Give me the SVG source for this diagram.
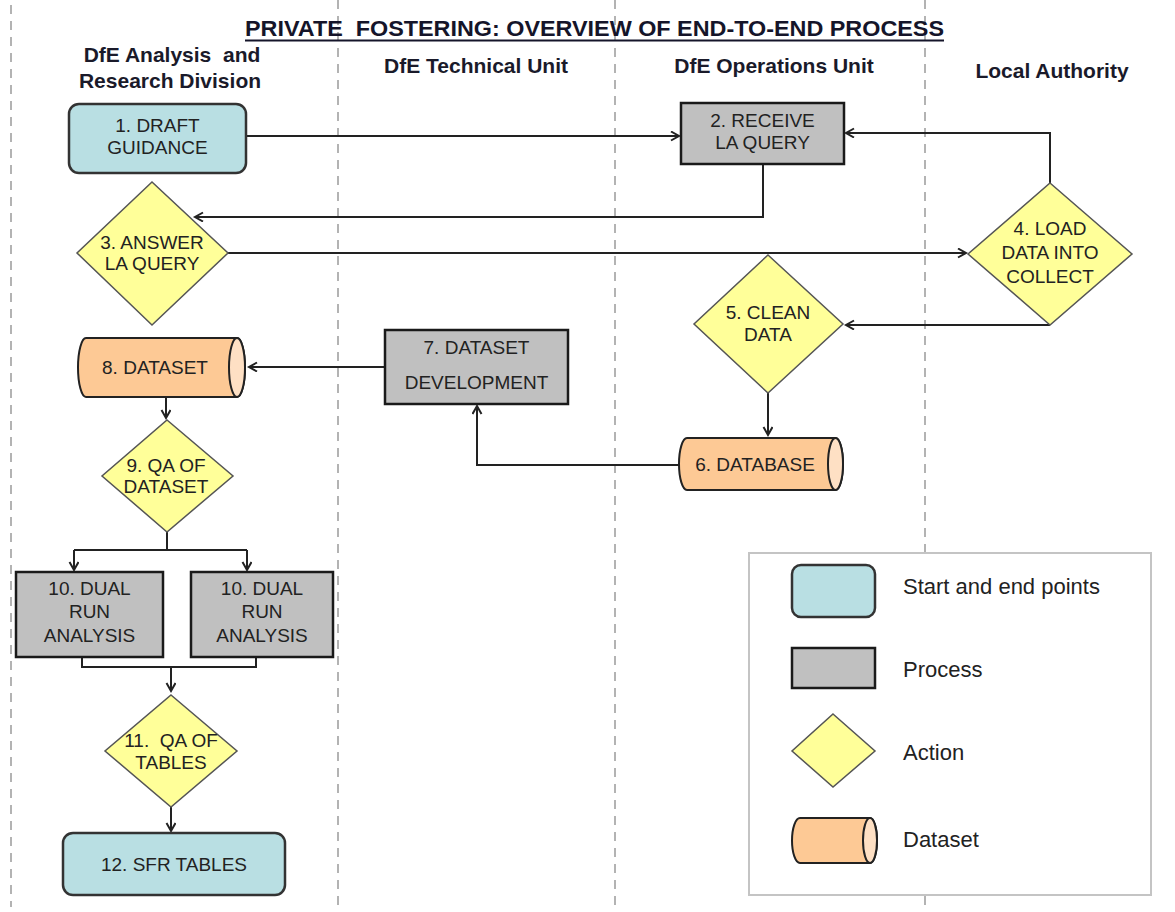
<svg xmlns="http://www.w3.org/2000/svg" width="1175" height="912" viewBox="0 0 1175 912">
<style>
.lane{stroke:#9a9a9a;stroke-width:1.5;stroke-dasharray:9 7;fill:none}
.hdr{font-family:"Liberation Sans",Arial,sans-serif;font-weight:bold;font-size:21px;fill:#1a1a2a;text-anchor:middle}
.ttl{font-family:"Liberation Sans",Arial,sans-serif;font-weight:bold;font-size:22px;fill:#15152a}
.t{font-family:"Liberation Sans",Arial,sans-serif;font-size:19px;fill:#222;text-anchor:middle}
.lg{font-family:"Liberation Sans",Arial,sans-serif;font-size:22px;fill:#222}
.start{fill:#b9dfe3;stroke:#333;stroke-width:2.5}
.proc{fill:#c0c0c0;stroke:#1a1a1a;stroke-width:2.5}
.act{fill:#ffff99;stroke:#555;stroke-width:1.5}
.ds{fill:#fdc995;stroke:#222;stroke-width:2}
.cap{fill:#fee0c4;stroke:#222;stroke-width:2}
.con path{fill:none;stroke:#222;stroke-width:2;marker-end:url(#arr)}
</style>
<defs>
<marker id="arr" markerWidth="12" markerHeight="12" refX="9" refY="5" orient="auto" markerUnits="userSpaceOnUse">
<path d="M1,0.5 L9,5 L1,9.5" fill="none" stroke="#222" stroke-width="2"/>
</marker>
</defs>
<rect width="1175" height="912" fill="#fff"/>
<g id="lanes">
<line class="lane" x1="11" y1="5" x2="11" y2="907"/>
<line class="lane" x1="338" y1="0" x2="338" y2="907"/>
<line class="lane" x1="615" y1="0" x2="615" y2="907"/>
<line class="lane" x1="925" y1="0" x2="925" y2="907"/>
</g>
<g id="title">
<text class="ttl" x="245" y="36" textLength="699" lengthAdjust="spacingAndGlyphs">PRIVATE&#160; FOSTERING: OVERVIEW OF END-TO-END PROCESS</text>
<line x1="245" y1="40.5" x2="944" y2="40.5" stroke="#15152a" stroke-width="2"/>
</g>
<g id="headers">
<text class="hdr" x="172" y="62">DfE Analysis&#160; and</text>
<text class="hdr" x="170" y="88">Research Division</text>
<text class="hdr" x="476" y="73">DfE Technical Unit</text>
<text class="hdr" x="774" y="73">DfE Operations Unit</text>
<text class="hdr" x="1052" y="78">Local Authority</text>
</g>
<g id="connectors" class="con">
<path d="M246,136 L679,136"/>
<path d="M763,164 L763,217 L195,217"/>
<path d="M228,253 L966,253"/>
<path d="M1050,183 L1050,133 L846,133"/>
<path d="M1050,325 L846,325"/>
<path d="M768,393 L768,435"/>
<path d="M679,465 L477,465 L477,406"/>
<path d="M385,367 L249,367"/>
<path d="M166,397 L166,418"/>
<path d="M167,532 L167,550 M74,550 L247,550" style="marker-end:none"/>
<path d="M74,550 L74,570"/>
<path d="M247,550 L247,570"/>
<path d="M82,657 L82,667 L256,667 L256,657" style="marker-end:none"/>
<path d="M171,667 L171,691"/>
<path d="M171,807 L171,831"/>
</g>
<g id="n1">
<rect class="start" x="69" y="104" width="177" height="69" rx="10"/>
<text class="t" x="157.5" y="132">1. DRAFT</text>
<text class="t" x="157.5" y="154">GUIDANCE</text>
</g>
<g id="n2">
<rect class="proc" x="681" y="103" width="163" height="61"/>
<text class="t" x="762.5" y="127">2. RECEIVE</text>
<text class="t" x="762.5" y="149">LA QUERY</text>
</g>
<g id="n3">
<polygon class="act" points="152,182 228,253 152,325 77,253"/>
<text class="t" x="152" y="249">3. ANSWER</text>
<text class="t" x="152" y="270">LA QUERY</text>
</g>
<g id="n4">
<polygon class="act" points="1050,183 1132,254 1050,325 968,254"/>
<text class="t" x="1050" y="235">4. LOAD</text>
<text class="t" x="1050" y="259">DATA INTO</text>
<text class="t" x="1050" y="283">COLLECT</text>
</g>
<g id="n5">
<polygon class="act" points="768,255 843,324 768,393 694,324"/>
<text class="t" x="768" y="319">5. CLEAN</text>
<text class="t" x="768" y="341">DATA</text>
</g>
<g id="n6">
<path class="ds" d="M687,438 L835.5,438 A7.5,26 0 0 1 835.5,490 L687,490 A8,26 0 0 1 687,438 Z"/>
<ellipse class="cap" cx="835.5" cy="464" rx="7.5" ry="26"/>
<text class="t" x="755" y="471">6. DATABASE</text>
</g>
<g id="n7">
<rect class="proc" x="385" y="330" width="183" height="74"/>
<text class="t" x="476.5" y="354">7. DATASET</text>
<text class="t" x="476.5" y="389">DEVELOPMENT</text>
</g>
<g id="n8">
<path class="ds" d="M86,338 L237,338 A8,29.5 0 0 1 237,397 L86,397 A8,29.5 0 0 1 86,338 Z"/>
<ellipse class="cap" cx="237" cy="367.5" rx="8" ry="29.5"/>
<text class="t" x="155" y="374">8. DATASET</text>
</g>
<g id="n9">
<polygon class="act" points="167,420 233,476 167,532 102,476"/>
<text class="t" x="166" y="472">9. QA OF</text>
<text class="t" x="166" y="493">DATASET</text>
</g>
<g id="n10a">
<rect class="proc" x="16" y="572" width="147" height="85"/>
<text class="t" x="89.5" y="595">10. DUAL</text>
<text class="t" x="89.5" y="618">RUN</text>
<text class="t" x="89.5" y="642">ANALYSIS</text>
</g>
<g id="n10b">
<rect class="proc" x="191" y="572" width="142" height="85"/>
<text class="t" x="262" y="595">10. DUAL</text>
<text class="t" x="262" y="618">RUN</text>
<text class="t" x="262" y="642">ANALYSIS</text>
</g>
<g id="n11">
<polygon class="act" points="171,695 237,751 171,807 105,751"/>
<text class="t" x="171" y="747">11.&#160; QA OF</text>
<text class="t" x="171" y="769">TABLES</text>
</g>
<g id="n12">
<rect class="start" x="63" y="833" width="222" height="62" rx="10"/>
<text class="t" x="174" y="871">12. SFR TABLES</text>
</g>
<g id="legend">
<rect x="749" y="553" width="402" height="342" fill="#fff" stroke="#c4c4c4" stroke-width="2"/>
<rect class="start" x="792" y="565" width="83" height="52" rx="9"/>
<text class="lg" x="903" y="594">Start and end points</text>
<rect class="proc" x="792" y="648" width="83" height="40"/>
<text class="lg" x="903" y="677">Process</text>
<polygon class="act" points="833,714 875,751 833,787 792,751"/>
<text class="lg" x="903" y="760">Action</text>
<path class="ds" d="M800,818 L870,818 A7,22.5 0 0 1 870,863 L800,863 A8,22.5 0 0 1 800,818 Z"/>
<ellipse class="cap" cx="870" cy="840.5" rx="7" ry="22.5"/>
<text class="lg" x="903" y="847">Dataset</text>
</g>
</svg>
